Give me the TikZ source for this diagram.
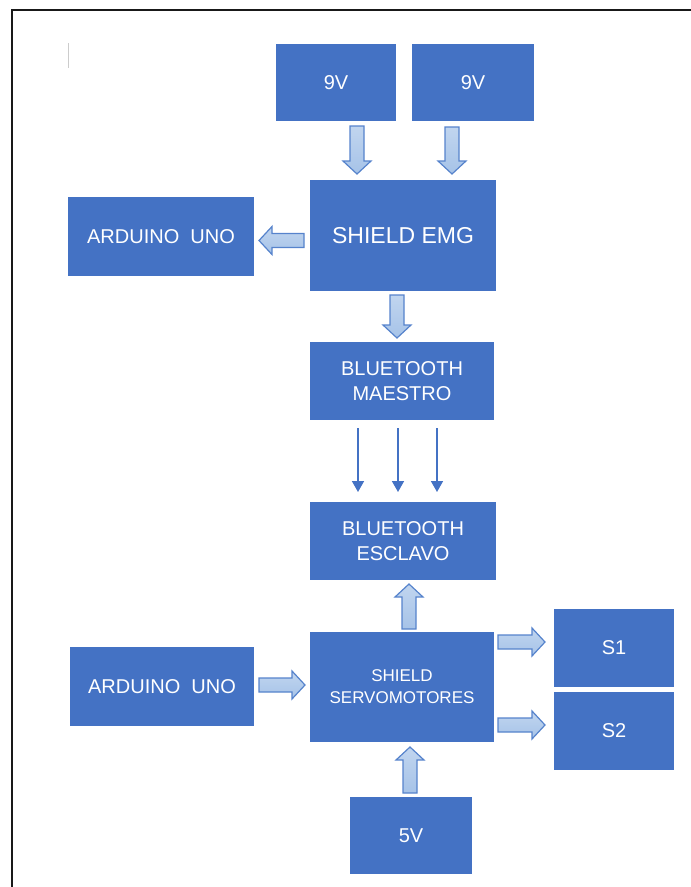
\documentclass[tikz,border=0pt]{standalone}
\usepackage{fontspec}
\setmainfont{Liberation Sans}
\usepackage{tikz}
\usetikzlibrary{calc,arrows.meta}
\definecolor{boxblue}{HTML}{4472C4}
\definecolor{arrowfill}{HTML}{A6C3E8}
\definecolor{arrowedge}{HTML}{5683CC}
\tikzset{
    block/.style={
        fill=boxblue,
        text=white,
        inner sep=0pt,
        outer sep=0pt,
        align=center,
        font=\fontsize{20}{25}\selectfont
    },
    blockarrow/.style={
        draw=arrowedge,
        line width=1.2pt,
        line join=miter,
        top color=arrowfill!70!white,
        bottom color=arrowfill
    },
    radiolink/.style={
        draw=boxblue,
        line width=1.6pt,
        -{Triangle[length=11pt,width=12pt]}
    },
    frame/.style={
        draw=black!90,
        line width=2.6pt
    }
}
% fat arrow from #1 (tail) to #2 (tip)
\newcommand\fatarrow[2]{%
    \coordinate (fah) at ($(#2)!13pt!(#1)$);
    \draw[blockarrow] ($(#1)!7pt!90:(#2)$) -- ($(fah)!7pt!-90:(#1)$)
        -- ($(fah)!14pt!-90:(#1)$) -- (#2) -- ($(fah)!14pt!90:(#1)$)
        -- ($(fah)!7pt!90:(#1)$) -- ($(#1)!7pt!-90:(#2)$) -- cycle;
}
\begin{document}
\begin{tikzpicture}[x=1pt,y=-1pt]

    \useasboundingbox (0,0) rectangle (691,887);
    \draw[frame] (12,887) -- (12,10) -- (691,10);
    \draw[black!20,line width=1pt] (68,43) -- (68,68);

    %% Emisor
    \node (v9a) [block,minimum width=120pt,minimum height=77pt] at (336,82.5) {9V};
    \node (v9b) [block,minimum width=122pt,minimum height=77pt] at (473,82.5) {9V};
    \node (emg) [block,minimum width=186pt,minimum height=111pt,
        font=\fontsize{23}{26}\selectfont] at (403,235.5) {SHIELD EMG};
    \node (ardA) [block,minimum width=186pt,minimum height=79pt] at (161,236.5) {ARDUINO\ \ UNO};
    \node (btm) [block,minimum width=184pt,minimum height=78pt] at (402,381) {BLUETOOTH\\MAESTRO};

    %% Receptor
    \node (bte) [block,minimum width=186pt,minimum height=78pt] at (403,541) {BLUETOOTH\\ESCLAVO};
    \node (servo) [block,minimum width=184pt,minimum height=110pt,
        font=\fontsize{17}{22}\selectfont] at (402,687) {SHIELD\\SERVOMOTORES};
    \node (ardB) [block,minimum width=184pt,minimum height=79pt] at (162,686.5) {ARDUINO\ \ UNO};
    \node (s1) [block,minimum width=120pt,minimum height=78pt] at (614,648) {S1};
    \node (s2) [block,minimum width=120pt,minimum height=78pt] at (614,731) {S2};
    \node (v5) [block,minimum width=122pt,minimum height=77pt] at (411,835.5) {5V};

    %% Block arrows
    \coordinate (a1t) at ($(v9a.south)+(21,5)$);
    \coordinate (a1h) at ($(a1t |- emg.north)+(0,-6)$);
    \fatarrow{a1t}{a1h}
    \coordinate (a2t) at ($(v9b.south)+(-21,6)$);
    \coordinate (a2h) at ($(a2t |- emg.north)+(0,-6)$);
    \fatarrow{a2t}{a2h}
    \coordinate (a3t) at ($(emg.west)+(-6,5)$);
    \coordinate (a3h) at ($(a3t -| ardA.east)+(5,0)$);
    \fatarrow{a3t}{a3h}
    \coordinate (a4t) at ($(emg.south)+(-6,4)$);
    \coordinate (a4h) at ($(a4t |- btm.north)+(0,-4)$);
    \fatarrow{a4t}{a4h}
    \coordinate (a5t) at ($(servo.north)+(7,-3)$);
    \coordinate (a5h) at ($(a5t |- bte.south)+(0,4)$);
    \fatarrow{a5t}{a5h}
    \coordinate (a6t) at ($(ardB.east)+(5,-1.5)$);
    \coordinate (a6h) at ($(a6t -| servo.west)+(-5,0)$);
    \fatarrow{a6t}{a6h}
    \coordinate (a7t) at ($(servo.east)+(4,-45)$);
    \coordinate (a7h) at ($(a7t -| s1.west)+(-9,0)$);
    \fatarrow{a7t}{a7h}
    \coordinate (a8t) at ($(servo.east)+(4,38)$);
    \coordinate (a8h) at ($(a8t -| s2.west)+(-9,0)$);
    \fatarrow{a8t}{a8h}
    \coordinate (a9t) at ($(v5.north)+(-1,-4)$);
    \coordinate (a9h) at ($(a9t |- servo.south)+(0,5)$);
    \fatarrow{a9t}{a9h}

    %% Radio link
    \foreach \dx in {-44,-4,35} {
        \draw[radiolink] ($(btm.south)+(\dx,8)$) -- ($(btm.south |- bte.north)+(\dx,-10)$);
    }

\end{tikzpicture}
\end{document}
